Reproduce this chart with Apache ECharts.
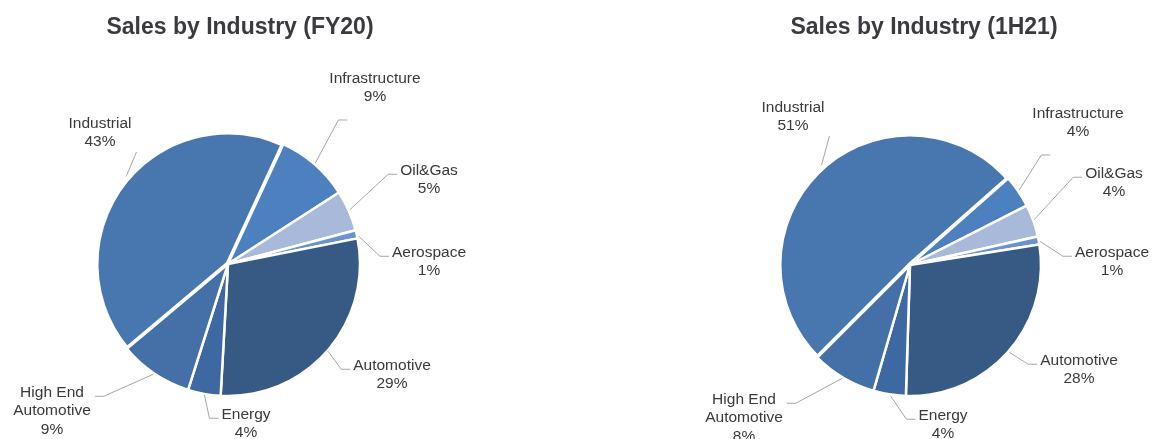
<!DOCTYPE html>
<html><head><meta charset="utf-8">
<script src="https://cdn.jsdelivr.net/npm/echarts@6/dist/echarts.min.js"></script>
<style>html,body{margin:0;padding:0;background:#fff}#c{width:1153px;height:439px}</style>
</head><body><div id="c"></div>
<script>
var categories = ['Industrial','Infrastructure','Oil&Gas','Aerospace','Automotive','Energy','High End Automotive'];
var valuesFY20 = [43, 9, 5, 1, 29, 4, 9];
var values1H21 = [51, 4, 4, 1, 28, 4, 8];
var titles = ['Sales by Industry (FY20)', 'Sales by Industry (1H21)'];
var colors = ['#4877b0','#4d80bf','#a9b9d9','#6a93cc','#365a84','#3d68a1','#446fa7'];

// label placement (layout only): [text centre x, text top y, line style]
var labelLayoutFY20 = [[100,114,'up'],[375,69,'under'],[429,161,'side'],[429,243,'side'],[392,356,'side'],[246,405,'side'],[52,383,'side']];
var labelLayout1H21 = [[793,98,'up'],[1078,104,'under'],[1114,164,'side'],[1112,243,'side'],[1079,351,'side'],[943,406,'side'],[744,390,'side']];
var layouts = [labelLayoutFY20, labelLayout1H21];
var centers = [[228,264],[910,265]];
var LH = 18.5;

function mk(vals){
  return categories.map(function(n,i){
    return {name:n, value:vals[i], itemStyle:{color:colors[i], borderColor:'#fff', borderWidth: i===0?5:2.5}};
  });
}
var FONT = 'Liberation Sans, Arial, sans-serif';
var labelCfg = {
  show:true, position:'outside', color:'#3a3a3a', fontSize:15.5, lineHeight:LH,
  fontFamily:FONT, align:'center',
  formatter:function(p){ return p.name.replace('High End ','High End\n') + '\n' + p.value + '%'; }
};
function labelLayoutFn(p){
  var L = layouts[p.seriesIndex][p.dataIndex];
  var w = p.labelRect.width, h = p.labelRect.height;
  var cx = L[0], top = L[1];
  var c = centers[p.seriesIndex];
  var start = p.labelLinePoints ? p.labelLinePoints[0] : null;
  var end, elbow;
  if (L[2] === 'up') {
    end = [cx + w/2 + 5, top + h + 1]; elbow = end;
  } else if (L[2] === 'under') {
    end = [cx - w/2 + 18, top + h + 14]; elbow = [end[0] - 9, end[1]];
  } else if (cx > c[0]) {
    end = [cx - w/2 - 3, top + LH/2 + 4]; elbow = [end[0] - 9, end[1]];
  } else {
    end = [cx + w/2 + 4, top + LH/2 + 4]; elbow = [end[0] + 9, end[1]];
  }
  var out = {x: cx, y: top, align:'center', verticalAlign:'top'};
  if (start) out.labelLinePoints = [start, elbow, end];
  return out;
}
var chart = echarts.init(document.getElementById('c'));
var line = {length:18, length2:8, lineStyle:{color:'#a6a6a6', width:1}};
chart.setOption({
  animation:false,
  title:[
    {text:titles[0], left:240, top:16, textAlign:'center', padding:0, textStyle:{fontSize:23, fontWeight:'bold', color:'#3b3a3f', fontFamily:FONT}},
    {text:titles[1], left:924, top:16, textAlign:'center', padding:0, textStyle:{fontSize:23, fontWeight:'bold', color:'#3b3a3f', fontFamily:FONT}}
  ],
  series:[
    {type:'pie', center:centers[0], radius:132, startAngle:220, clockwise:true, data:mk(valuesFY20),
     label:labelCfg, labelLine:line, labelLayout:labelLayoutFn, avoidLabelOverlap:false},
    {type:'pie', center:centers[1], radius:131, startAngle:225, clockwise:true, data:mk(values1H21),
     label:labelCfg, labelLine:line, labelLayout:labelLayoutFn, avoidLabelOverlap:false}
  ]
});
</script></body></html>
